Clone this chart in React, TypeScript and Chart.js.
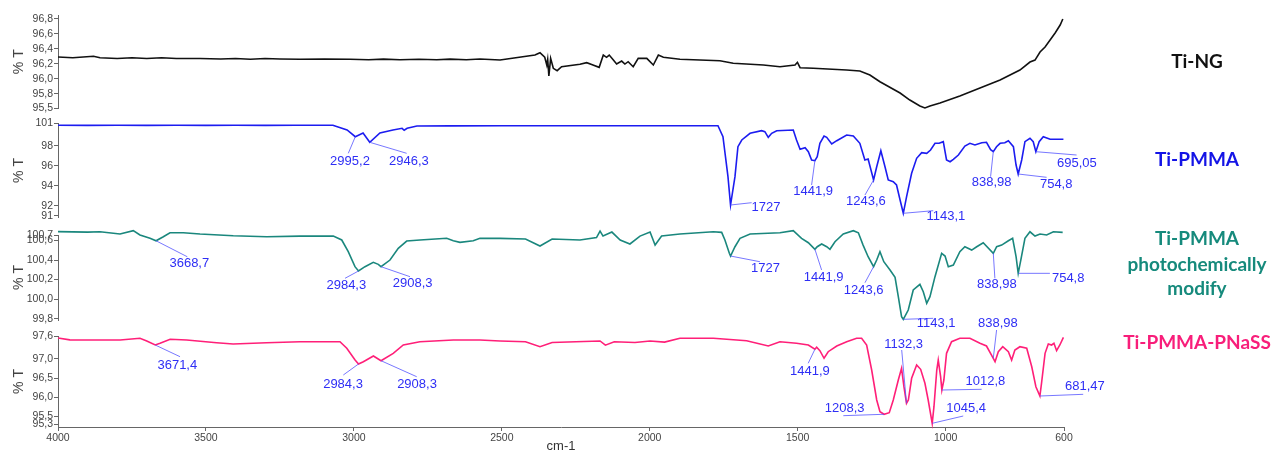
import React, { useEffect, useRef } from "react";
import { Chart, registerables } from "chart.js";
Chart.register(...registerables);

// ---------------- DATA ----------------
const xTickValues = [4000, 3500, 3000, 2500, 2000, 1500, 1000, 600];
const xTickLabels = ["4000", "3500", "3000", "2500", "2000", "1500", "1000", "600"];

// Ti-NG
const tiNgWavenumbers = [4000, 3950, 3880, 3858, 3800, 3750, 3700, 3650, 3600, 3520, 3450, 3400, 3350, 3300, 3250, 3182, 3100, 3013, 2950, 2900, 2844, 2780, 2720, 2675, 2620, 2574, 2506, 2388, 2371, 2355, 2348, 2345, 2341, 2335, 2326, 2313, 2298, 2236, 2213, 2192, 2171, 2157, 2146, 2137, 2123, 2112, 2095, 2084, 2073, 2056, 2039, 2010, 1988, 1971, 1954, 1898, 1763, 1718, 1616, 1560, 1509, 1501, 1492, 1447, 1335, 1290, 1256, 1222, 1154, 1121, 1087, 1070, 1053, 1019, 952, 884, 816, 749, 715, 698, 681, 664, 647, 630, 613, 604];
const tiNgTransmittance = [96.29, 96.28, 96.3, 96.28, 96.27, 96.28, 96.27, 96.28, 96.27, 96.27, 96.265, 96.27, 96.26, 96.27, 96.265, 96.26, 96.265, 96.26, 96.255, 96.262, 96.255, 96.26, 96.255, 96.262, 96.255, 96.264, 96.251, 96.317, 96.348, 96.287, 96.184, 96.26, 96.037, 96.273, 96.14, 96.108, 96.161, 96.193, 96.215, 96.184, 96.153, 96.317, 96.287, 96.317, 96.251, 96.197, 96.237, 96.197, 96.228, 96.161, 96.273, 96.273, 96.184, 96.317, 96.287, 96.26, 96.241, 96.207, 96.184, 96.161, 96.184, 96.22, 96.148, 96.14, 96.117, 96.104, 96.051, 95.961, 95.811, 95.717, 95.637, 95.611, 95.637, 95.677, 95.771, 95.877, 95.984, 96.117, 96.224, 96.25, 96.357, 96.424, 96.517, 96.611, 96.717, 96.797];

// Ti-PMMA
const tiPmmaWavenumbers = [4000, 3900, 3800, 3700, 3600, 3500, 3400, 3300, 3200, 3071, 3023, 2995.2, 2969, 2946.3, 2912, 2868, 2837, 2830, 2820, 2787, 2675, 2500, 2300, 2100, 1900, 1769.5, 1752.6, 1735.7, 1727, 1712, 1702, 1689, 1661, 1622, 1611, 1599.5, 1588, 1571, 1515, 1504, 1492, 1475, 1464, 1453, 1441.9, 1434, 1425, 1411, 1402, 1385, 1368, 1334.5, 1312, 1290, 1273, 1262, 1243.6, 1233, 1219, 1205, 1194, 1177, 1166, 1154, 1143.1, 1132, 1115, 1098, 1081, 1064, 1051, 1036, 1022, 1008, 997, 985, 974, 957, 935, 918, 901, 878, 862, 848, 838.98, 828, 816, 800, 788, 771, 762, 754.8, 743, 732, 715, 704, 695.05, 684, 670, 647, 602];
const tiPmmaTransmittance = [100.05, 100.04, 100.05, 100.04, 100.05, 100.04, 100.05, 100.04, 100.05, 100.05, 99.575, 98.905, 99.275, 98.345, 99.275, 99.575, 99.745, 99.55, 99.75, 99.975, 99.99, 100.0, 100.0, 100.0, 100.0, 100.0, 98.905, 94.905, 92.075, 94.905, 97.905, 98.575, 99.245, 99.505, 99.405, 98.845, 99.245, 99.505, 99.575, 98.575, 97.645, 97.805, 97.405, 96.575, 96.505, 96.905, 98.245, 98.975, 98.845, 98.175, 98.505, 99.075, 98.975, 98.245, 96.575, 96.675, 94.575, 95.905, 97.505, 95.905, 94.575, 94.405, 94.075, 92.575, 91.245, 92.905, 95.245, 96.745, 97.305, 97.245, 97.575, 98.245, 98.245, 98.405, 96.575, 96.405, 96.645, 97.075, 97.975, 98.245, 98.075, 98.305, 98.345, 97.6, 97.405, 97.905, 98.245, 98.305, 98.505, 97.905, 96.075, 95.175, 96.575, 98.405, 98.745, 98.405, 97.405, 98.405, 98.905, 98.645, 98.645];

// Ti-PMMA photochemically modify
const tiPmmaPhotoWavenumbers = [4000, 3900, 3858, 3790.5, 3745.5, 3723, 3689, 3668.7, 3644, 3621.5, 3576.5, 3520, 3407.6, 3294.7, 3182, 3069.6, 3041, 3019, 2996.3, 2984.3, 2962.5, 2934.4, 2917.5, 2908.3, 2878, 2850, 2821.5, 2776.6, 2686.4, 2664, 2641.4, 2596.5, 2574, 2506, 2420, 2371, 2330, 2236, 2180, 2168, 2158, 2128, 2100, 2067, 2033, 1999, 1982, 1960, 1898, 1785.4, 1757, 1746, 1731, 1727, 1712, 1695, 1661, 1560, 1515, 1487, 1464, 1441.9, 1434, 1419, 1402, 1391, 1374, 1346, 1312, 1295, 1279, 1262, 1243.6, 1233, 1222, 1209, 1188, 1171, 1160, 1149, 1143.1, 1126.4, 1109.5, 1087, 1075.6, 1064, 1053, 1036, 1013.5, 1002, 991, 974, 952, 935, 912, 895, 873, 838.98, 827.6, 810.7, 788, 773.6, 762, 754.8, 746, 732, 715, 698, 681, 658.6, 636, 604.5];
const tiPmmaPhotoTransmittance = [100.69, 100.685, 100.689, 100.666, 100.7, 100.656, 100.622, 100.597, 100.638, 100.679, 100.679, 100.666, 100.648, 100.638, 100.645, 100.645, 100.605, 100.485, 100.332, 100.288, 100.332, 100.377, 100.356, 100.332, 100.4, 100.52, 100.594, 100.605, 100.622, 100.597, 100.581, 100.597, 100.622, 100.622, 100.615, 100.543, 100.615, 100.605, 100.63, 100.696, 100.645, 100.686, 100.605, 100.564, 100.645, 100.686, 100.553, 100.645, 100.666, 100.689, 100.683, 100.605, 100.469, 100.441, 100.536, 100.622, 100.666, 100.679, 100.7, 100.622, 100.577, 100.51, 100.536, 100.564, 100.536, 100.51, 100.587, 100.666, 100.7, 100.679, 100.553, 100.434, 100.332, 100.4, 100.485, 100.383, 100.298, 100.224, 100.025, 99.821, 99.794, 99.889, 100.094, 100.152, 100.076, 99.958, 100.025, 100.23, 100.469, 100.441, 100.332, 100.349, 100.485, 100.536, 100.502, 100.536, 100.577, 100.469, 100.536, 100.553, 100.597, 100.622, 100.434, 100.264, 100.4, 100.622, 100.689, 100.645, 100.666, 100.656, 100.689, 100.683];

// Ti-PMMA-PNaSS
const tiPmmaPnassWavenumbers = [4000, 3960, 3858, 3790, 3723, 3700, 3671.4, 3655, 3621, 3565, 3464, 3408, 3295, 3182, 3047, 3024, 2996, 2984.3, 2968, 2934, 2908.3, 2867, 2833, 2777, 2664, 2574, 2506, 2420, 2371, 2330, 2250, 2168, 2150, 2120, 2050, 1999, 1950, 1898, 1785, 1672.6, 1599.5, 1560, 1504, 1464, 1441.9, 1436, 1425, 1411, 1397, 1368, 1334.5, 1301, 1284, 1267, 1250, 1233, 1222, 1208.3, 1190.5, 1177, 1160, 1149, 1141, 1132.3, 1126, 1115, 1098, 1084.5, 1070, 1059, 1045.4, 1039.5, 1030, 1025, 1017, 1012.8, 1006, 997, 980, 952, 918, 884, 862, 838.98, 833, 822, 807, 788, 777, 766, 749, 726, 709, 695, 681.47, 676, 664, 653, 642, 634, 625, 614, 602];
const tiPmmaPnassTransmittance = [97.55, 97.5, 97.495, 97.495, 97.54, 97.469, 97.365, 97.409, 97.514, 97.495, 97.425, 97.391, 97.425, 97.451, 97.451, 97.279, 96.973, 96.869, 96.929, 97.078, 96.955, 97.148, 97.365, 97.451, 97.495, 97.495, 97.47, 97.45, 97.32, 97.43, 97.45, 97.47, 97.36, 97.45, 97.43, 97.47, 97.44, 97.54, 97.54, 97.477, 97.339, 97.451, 97.409, 97.365, 97.253, 97.305, 97.216, 97.018, 97.19, 97.339, 97.451, 97.54, 97.54, 97.365, 96.712, 95.929, 95.623, 95.556, 95.597, 95.929, 96.451, 96.757, 96.276, 95.843, 95.929, 96.495, 96.843, 96.73, 96.365, 95.929, 95.32, 95.754, 96.712, 96.973, 96.537, 96.19, 96.451, 97.148, 97.451, 97.54, 97.54, 97.409, 97.339, 97.018, 96.929, 97.19, 97.32, 97.19, 96.973, 97.234, 97.32, 97.279, 96.798, 96.276, 96.033, 96.365, 97.148, 97.391, 97.365, 97.409, 97.216, 97.365, 97.566];

// Y tick values / labels per panel
const tiNgYTicks = [95.604, 95.8, 96.0, 96.2, 96.4, 96.6, 96.8];
const tiNgYTickLabels = ["95,5", "95,8", "96,0", "96,2", "96,4", "96,6", "96,8"];
const tiPmmaYTicks = [91, 92, 94, 96, 98, 100.225];
const tiPmmaYTickLabels = ["91", "92", "94", "96", "98", "101"];
const tiPmmaPhotoYTicks = [99.8, 100.0, 100.2, 100.4, 100.6, 100.656];
const tiPmmaPhotoYTickLabels = ["99,8", "100,0", "100,2", "100,4", "100,6", "100,7"];
const tiPmmaPnassYTicks = [95.3, 95.5, 96.0, 96.5, 97.0, 97.6];
const tiPmmaPnassYTickLabels = ["95,3", "95,5", "96,0", "96,5", "97,0", "97,6"];

// Peak labels
const tiPmmaPeakTexts = ["2995,2", "2946,3", "1727", "1441,9", "1243,6", "1143,1", "838,98", "754,8", "695,05"];
const tiPmmaPeakWavenumbers = [2995.2, 2946.3, 1727, 1441.9, 1243.6, 1143.1, 838.98, 754.8, 695.05];
const tiPmmaPhotoPeakTexts = ["3668,7", "2984,3", "2908,3", "1727", "1441,9", "1243,6", "1143,1", "838,98", "754,8"];
const tiPmmaPhotoPeakWavenumbers = [3668.7, 2984.3, 2908.3, 1727, 1441.9, 1243.6, 1143.1, 838.98, 754.8];
const tiPmmaPnassPeakTexts = ["3671,4", "2984,3", "2908,3", "1441,9", "1208,3", "1132,3", "1045,4", "1012,8", "838,98", "681,47"];
const tiPmmaPnassPeakWavenumbers = [3671.4, 2984.3, 2908.3, 1441.9, 1208.3, 1132.3, 1045.4, 1012.8, 838.98, 681.47];

// ---------------- LAYOUT (pixel offsets of leader end and label centre from the peak) ----------------
const tiPmmaPeakLayout = [[-7, 16.6, -5.3, 24.3], [36.9, 11, 39.2, 19.4], [21.1, -2.3, 35.4, 2.3], [-3.3, 24.3, -1.7, 30.3], [-8.6, 15, -7.6, 21], [29.9, -2.6, 42.6, 3.4], [-2.7, 25, -1.7, 30.8], [28.4, 3.3, 38, 10.2], [40.7, 3.3, 41, 11.6]];
const tiPmmaPhotoPeakLayout = [[31.3, 16, 33.3, 23.1], [-13.5, 7.3, -12.2, 14], [29, 10, 31.7, 16.6], [29.4, 5.7, 34.9, 12.7], [6.7, 20.7, 8.7, 27.9], [-8.6, 16, -9.9, 23.8], [29.9, -1, 32.9, 4.4], [1.6, 25, 3.6, 31.4], [31.7, 0, 50, 5]];
const tiPmmaPnassPeakLayout = [[24.8, 11.7, 22.1, 20], [-15.2, 11, -15.5, 20.3], [35.7, 16, 36, 23.6], [-6.7, 14, -5, 21.7], [-40.7, 1.4, -39.3, -6], [-4.8, -53.3, -2.8, -59], [31, -7.3, 34, -15.3], [39.8, -0.7, 43.6, -8.3], [3.3, -28.3, 4.6, -35.3], [43.3, -1.7, 45, -9.3]];

const W = 1272;
const H = 454;
const PLOT_LEFT = 58;
const PLOT_RIGHT = 1064;
const FONT = "'Liberation Sans', Arial, sans-serif";

type Panel = {
  ws: number[]; vs: number[]; color: string; top: number; bottom: number; min: number; max: number;
  ticks: number[]; tickLabels: string[]; peakTexts?: string[]; peakWs?: number[]; peakLayout?: number[][]; showX: boolean;
};

const panels: Panel[] = [
  { ws: tiNgWavenumbers, vs: tiNgTransmittance, color: "#111111", top: 15, bottom: 108.5, min: 95.604, max: 96.851, ticks: tiNgYTicks, tickLabels: tiNgYTickLabels, showX: false },
  { ws: tiPmmaWavenumbers, vs: tiPmmaTransmittance, color: "#1c1cf0", top: 123.5, bottom: 217.5, min: 90.825, max: 100.225, ticks: tiPmmaYTicks, tickLabels: tiPmmaYTickLabels, peakTexts: tiPmmaPeakTexts, peakWs: tiPmmaPeakWavenumbers, peakLayout: tiPmmaPeakLayout, showX: false },
  { ws: tiPmmaPhotoWavenumbers, vs: tiPmmaPhotoTransmittance, color: "#1a877d", top: 235, bottom: 320, min: 99.787, max: 100.656, ticks: tiPmmaPhotoYTicks, tickLabels: tiPmmaPhotoYTickLabels, peakTexts: tiPmmaPhotoPeakTexts, peakWs: tiPmmaPhotoPeakWavenumbers, peakLayout: tiPmmaPhotoPeakLayout, showX: false },
  { ws: tiPmmaPnassWavenumbers, vs: tiPmmaPnassTransmittance, color: "#ff1f78", top: 336, bottom: 427, min: 95.224, max: 97.6, ticks: tiPmmaPnassYTicks, tickLabels: tiPmmaPnassYTickLabels, peakTexts: tiPmmaPnassPeakTexts, peakWs: tiPmmaPnassPeakWavenumbers, peakLayout: tiPmmaPnassPeakLayout, showX: true },
];

function peakPlugin(p: Panel) {
  return {
    id: "peaks",
    afterDatasetsDraw(chart: any) {
      if (!p.peakTexts || !p.peakWs || !p.peakLayout) return;
      const ctx = chart.ctx;
      const xs = chart.scales.x;
      const ys = chart.scales.y;
      ctx.save();
      ctx.font = `13px ${FONT}`;
      ctx.textAlign = "center";
      ctx.textBaseline = "middle";
      p.peakWs.forEach((w, i) => {
        const idx = p.ws.indexOf(w);
        const v = p.vs[idx];
        const px = xs.getPixelForValue(w);
        const py = ys.getPixelForValue(v);
        const [lx, ly, tx, ty] = p.peakLayout![i];
        ctx.strokeStyle = "rgba(85,85,255,0.8)";
        ctx.lineWidth = 1;
        ctx.beginPath();
        ctx.moveTo(px, py);
        ctx.lineTo(px + lx, py + ly);
        ctx.stroke();
        ctx.fillStyle = "#2e2ef5";
        ctx.fillText(p.peakTexts![i], px + tx, py + ty);
      });
      ctx.restore();
    },
  };
}

export default function App() {
  const refs = [useRef<HTMLCanvasElement>(null), useRef<HTMLCanvasElement>(null), useRef<HTMLCanvasElement>(null), useRef<HTMLCanvasElement>(null)];

  useEffect(() => {
    document.body.style.margin = "0";
    Chart.defaults.font.family = FONT;
    const charts: Chart[] = [];
    panels.forEach((p, k) => {
      const cv = refs[k].current;
      if (!cv) return;
      const cfg: any = {
        type: "line",
        data: {
          datasets: [
            {
              data: p.ws.map((x, i) => ({ x, y: p.vs[i] })),
              borderColor: p.color,
              borderWidth: 1.6,
              pointRadius: 0,
              tension: 0,
              clip: false,
            },
          ],
        },
        options: {
          animation: false,
          responsive: false,
          devicePixelRatio: 1,
          events: [],
          layout: { padding: { left: 6, right: W - PLOT_RIGHT, top: p.top, bottom: p.showX ? 0 : H - p.bottom } },
          plugins: { legend: { display: false }, tooltip: { enabled: false } },
          scales: {
            x: {
              type: "linear",
              min: 600,
              max: 4000,
              reverse: true,
              display: p.showX,
              afterBuildTicks: (s: any) => { s.ticks = xTickValues.map((value) => ({ value })); },
              afterFit: (s: any) => { if (p.showX) s.height = H - p.bottom; },
              ticks: { autoSkip: false, maxRotation: 0, padding: 1, color: "#444", font: { size: 10.5 }, callback: (_v: any, i: number) => xTickLabels[i] },
              grid: { drawOnChartArea: false, tickLength: 4, color: "#666" },
              border: { color: "#666" },
              title: { display: true, text: "cm-1", color: "#333", font: { size: 13 }, padding: { top: 0, bottom: 0 } },
            },
            y: {
              type: "linear",
              min: p.min,
              max: p.max,
              afterBuildTicks: (s: any) => { s.ticks = p.ticks.map((value) => ({ value })); },
              afterFit: (s: any) => { s.width = PLOT_LEFT - 6; },
              ticks: { autoSkip: false, padding: 1, color: "#444", font: { size: 10.5 }, callback: (_v: any, i: number) => p.tickLabels[i] },
              grid: { drawOnChartArea: false, tickLength: 4, color: "#666" },
              border: { color: "#666" },
              title: { display: true, text: "% T", color: "#444", font: { size: 14 }, padding: { top: 5, bottom: 0 } },
            },
          },
        },
        plugins: [peakPlugin(p)],
      };
      charts.push(new Chart(cv, cfg));
    });
    return () => charts.forEach((c) => c.destroy());
  }, []);

  const labelStyle = (top: number, color: string): React.CSSProperties => ({
    position: "absolute",
    left: 1097,
    width: 200,
    top: top - 12,
    height: 24,
    lineHeight: "24px",
    textAlign: "center",
    fontFamily: "Lato, 'Open Sans', sans-serif",
    fontWeight: 700,
    fontSize: 19,
    color,
    whiteSpace: "nowrap",
  });

  return (
    <div style={{ position: "fixed", left: 0, top: 0, width: W, height: H, background: "#fff" }}>
      {refs.map((r, i) => (
        <canvas key={i} ref={r} width={W} height={H} style={{ position: "absolute", left: 0, top: 0, width: W, height: H }} />
      ))}
      <div style={labelStyle(61, "#111")}>Ti-NG</div>
      <div style={labelStyle(159, "#1414e6")}>Ti-PMMA</div>
      <div style={labelStyle(238, "#168a7c")}>Ti-PMMA</div>
      <div style={labelStyle(264, "#168a7c")}>photochemically</div>
      <div style={labelStyle(288, "#168a7c")}>modify</div>
      <div style={labelStyle(342, "#f81e7a")}>Ti-PMMA-PNaSS</div>
    </div>
  );
}
